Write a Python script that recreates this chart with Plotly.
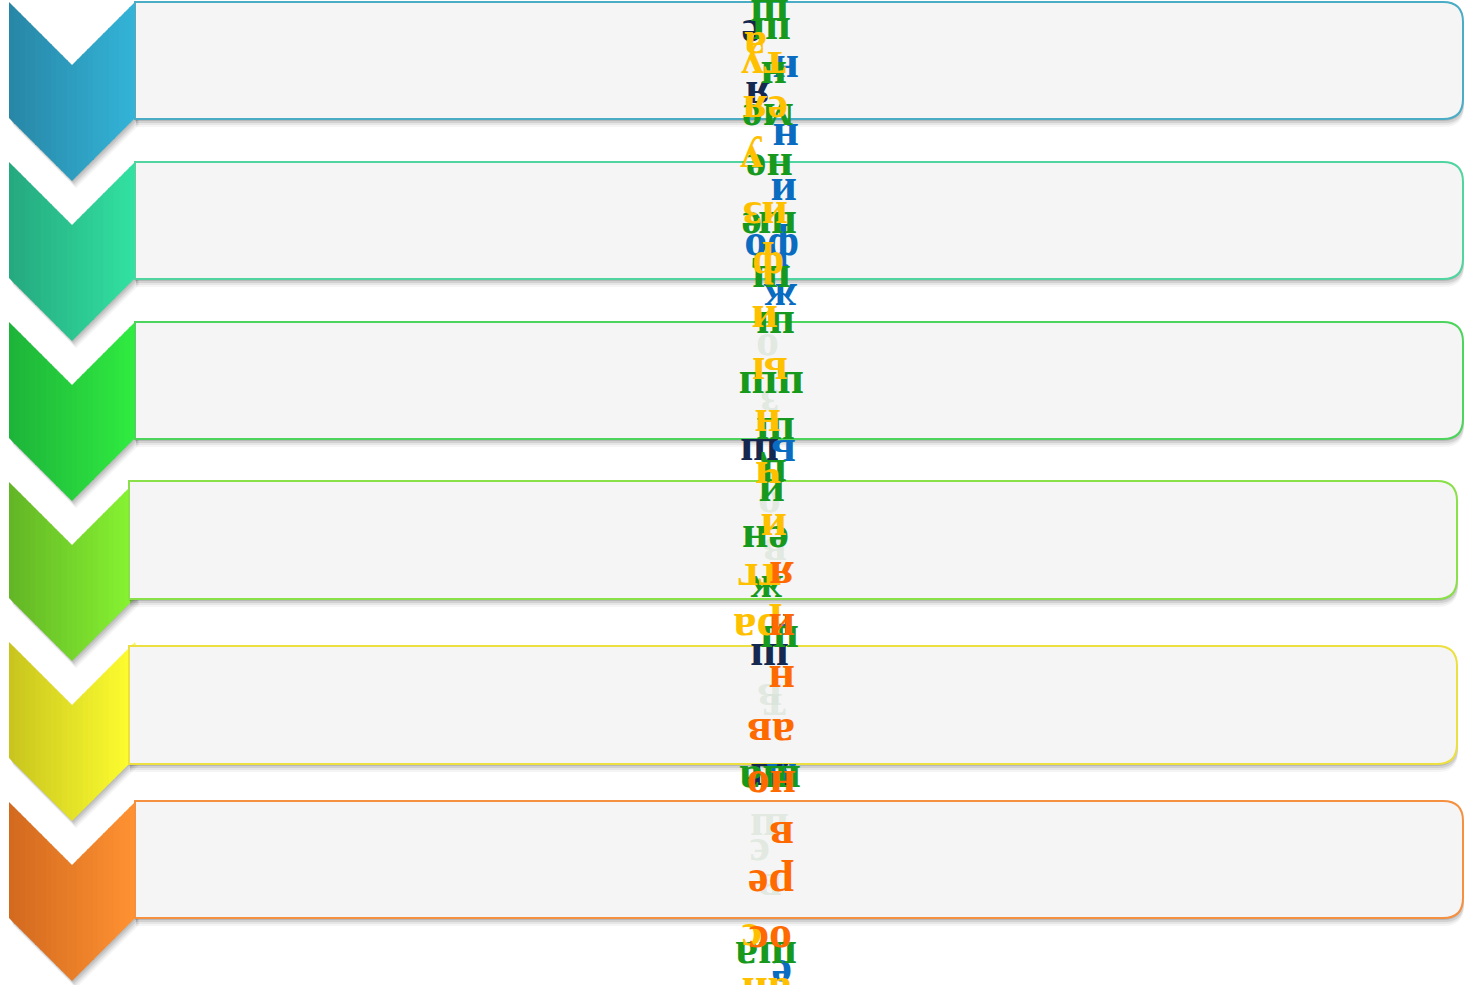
import plotly.graph_objects as go

# ---- data -------------------------------------------------------------
steps = ["1", "2", "3", "4", "5", "6"]
chev_dark = ["#2886a6", "#25a87e", "#1db33a", "#62b525", "#c8c41e", "#d2691e"]
chev_light = ["#33b4d8", "#32e2a2", "#30ec40", "#88f532", "#ffff30", "#ff9232"]
box_border = ["#4bacc6", "#50d4a0", "#4cd45c", "#8ae048", "#ece040", "#f59040"]
box_left = [135, 135, 135, 129, 129, 135]
box_right = [1463, 1463, 1463, 1457, 1457, 1463]
box_top = [2, 162, 322, 481, 646, 801]
box_bottom = [119, 279, 439, 599, 764, 918]
chev_top = [2, 162, 322, 482, 642, 802]

palette = {
    "G": "#16991c", "Y": "#ffc000", "O": "#ff6a00", "B": "#0a6cc0",
    "N": "#142850", "F": "rgba(214,226,214,0.65)",
}
frag_text = [
    "о", "з", "о", "в", "в", "т", "ш", "є", "в",
    "е", "я", "ш", "ш", "ш",
    "н", "н", "и", "фо", "ж", "ь", "н", "м", "е",
    "ш", "ш", "н", "ме", "не", "е", "ш", "щ", "ш", "цш", "ш", "ц", "и", "ен", "ж", "ш", "ша", "ша",
    "а", "ту", "ея", "у", "из", "ф", "и", "ы", "н", "ч", "и", "тг", "ра", "с", "ан",
    "я", "и", "н", "ав", "но", "в", "ре", "ос",
]
frag_x = [
    768, 770, 770, 775, 770, 775, 770, 760, 770,
    752, 758, 760, 770, 770,
    786, 786, 784, 772, 780, 784, 782, 782, 782,
    770, 772, 774, 768, 770, 752, 778, 772, 776, 772, 776, 774, 772, 766, 766, 780, 770, 766,
    756, 764, 766, 752, 766, 768, 765, 770, 768, 768, 774, 760, 758, 752, 766,
    782, 782, 782, 771, 771, 782, 771, 771,
]
frag_y = [
    340, 395, 497, 545, 690, 700, 820, 845, 880,
    26, 88, 445, 650, 770,
    62, 130, 185, 240, 290, 446, 620, 770, 966,
    6, 24, 68, 110, 160, 218, 218, 272, 318, 378, 424, 466, 486, 532, 582, 632, 772, 948,
    38, 58, 102, 152, 208, 258, 312, 364, 416, 468, 520, 570, 620, 930, 984,
    568, 620, 672, 725, 777, 828, 876, 932,
]
frag_color = (
    ["F"] * 9 + ["N"] * 5 + ["B"] * 9 + ["G"] * 18 + ["Y"] * 15 + ["O"] * 8
)
dot_x = [817]
dot_y = [864]

# ---- geometry helpers ----------------------------------------------
W, H = 1464, 985
CH_L, CH_R = 9, 135
CH_DEPTH, CH_SIDE = 63, 116
N_STRIPS = 24
BOX_R = 20


def hex2rgb(h):
    h = h.lstrip("#")
    return tuple(int(h[i:i + 2], 16) for i in (0, 2, 4))


def mix(c1, c2, t):
    a, b = hex2rgb(c1), hex2rgb(c2)
    return "rgb(%d,%d,%d)" % tuple(round(a[k] + (b[k] - a[k]) * t) for k in range(3))


def chev_edges(x, top):
    cx = (CH_L + CH_R) / 2
    half = (CH_R - CH_L) / 2
    f = 1 - abs(x - cx) / half
    return top + CH_DEPTH * f, top + CH_SIDE + CH_DEPTH * f


def chevron_path(top, dx=0, dy=0):
    cx = (CH_L + CH_R) / 2
    pts = [(CH_L, top), (cx, top + CH_DEPTH), (CH_R, top), (CH_R, top + CH_SIDE),
           (cx, top + CH_SIDE + CH_DEPTH), (CH_L, top + CH_SIDE)]
    return "M " + " L ".join(f"{x + dx},{y + dy}" for x, y in pts) + " Z"


def box_path(x0, y0, x1, y1, r=BOX_R, dx=0, dy=0):
    x0, x1, y0, y1 = x0 + dx, x1 + dx, y0 + dy, y1 + dy
    return (f"M {x0},{y0} L {x1 - r},{y0} Q {x1},{y0} {x1},{y0 + r} "
            f"L {x1},{y1 - r} Q {x1},{y1} {x1 - r},{y1} L {x0},{y1} Z")


shapes = []
# chevrons with shadow + gradient strips
for i in range(len(steps)):
    top = chev_top[i]
    for (dx, dy, a) in [(4, 7, 0.05), (3, 5, 0.07), (2, 3, 0.09), (1, 1, 0.08)]:
        shapes.append(dict(type="path", path=chevron_path(top, dx, dy), xref="x", yref="y",
                           fillcolor=f"rgba(0,0,0,{a})", line=dict(width=0), layer="above"))
    for s in range(N_STRIPS):
        x0 = CH_L + (CH_R - CH_L) * s / N_STRIPS
        x1 = CH_L + (CH_R - CH_L) * (s + 1) / N_STRIPS
        t0, b0 = chev_edges(x0, top)
        t1, b1 = chev_edges(x1, top)
        x1e = min(x1 + 0.7, CH_R)
        t1e, b1e = chev_edges(x1e, top) if s < N_STRIPS - 1 else (t1, b1)
        if s == N_STRIPS // 2 - 1:
            x1e, t1e, b1e = x1, t1, b1
        col = mix(chev_dark[i], chev_light[i], (s + 0.5) / N_STRIPS)
        shapes.append(dict(type="path", xref="x", yref="y", layer="above",
                           path=f"M {x0},{t0} L {x1e},{t1e} L {x1e},{b1e} L {x0},{b0} Z",
                           fillcolor=col, line=dict(width=0)))
# boxes with shadow
for i in range(len(steps)):
    x0, x1, y0, y1 = box_left[i], box_right[i], box_top[i], box_bottom[i]
    for (dx, dy, a) in [(1, 8, 0.04), (1, 6, 0.06), (1, 4, 0.09), (0, 2, 0.12)]:
        shapes.append(dict(type="path", xref="x", yref="y", layer="above",
                           path=box_path(x0, y0, x1, y1, BOX_R, dx, dy),
                           fillcolor=f"rgba(0,0,0,{a})", line=dict(width=0)))
    shapes.append(dict(type="path", xref="x", yref="y", layer="above",
                       path=box_path(x0, y0, x1, y1, BOX_R),
                       fillcolor="#f5f5f5", line=dict(color=box_border[i], width=2)))

annotations = []
for t, x, y, c in zip(frag_text, frag_x, frag_y, frag_color):
    annotations.append(dict(
        x=x, y=y, xref="x", yref="y", text=f"<b>{t}</b>", showarrow=False,
        textangle=180, xanchor="center", yanchor="middle", yshift=-10,
        font=dict(family="Liberation Serif, DejaVu Serif, serif", size=46, color=palette[c]),
    ))

fig = go.Figure()
fig.add_trace(go.Scatter(x=dot_x, y=dot_y, mode="markers",
                         marker=dict(size=12, color="#e2e2e2"), hoverinfo="skip",
                         showlegend=False))
fig.update_layout(
    width=W, height=H, margin=dict(l=0, r=0, t=0, b=0),
    paper_bgcolor="white", plot_bgcolor="white",
    xaxis=dict(range=[0, W], visible=False, fixedrange=True),
    yaxis=dict(range=[H, 0], visible=False, fixedrange=True),
    shapes=shapes, annotations=annotations, showlegend=False,
)
fig.write_html("out.html", config={"displayModeBar": False},
               post_script="document.body.style.margin='0px';document.body.style.overflow='hidden';")
